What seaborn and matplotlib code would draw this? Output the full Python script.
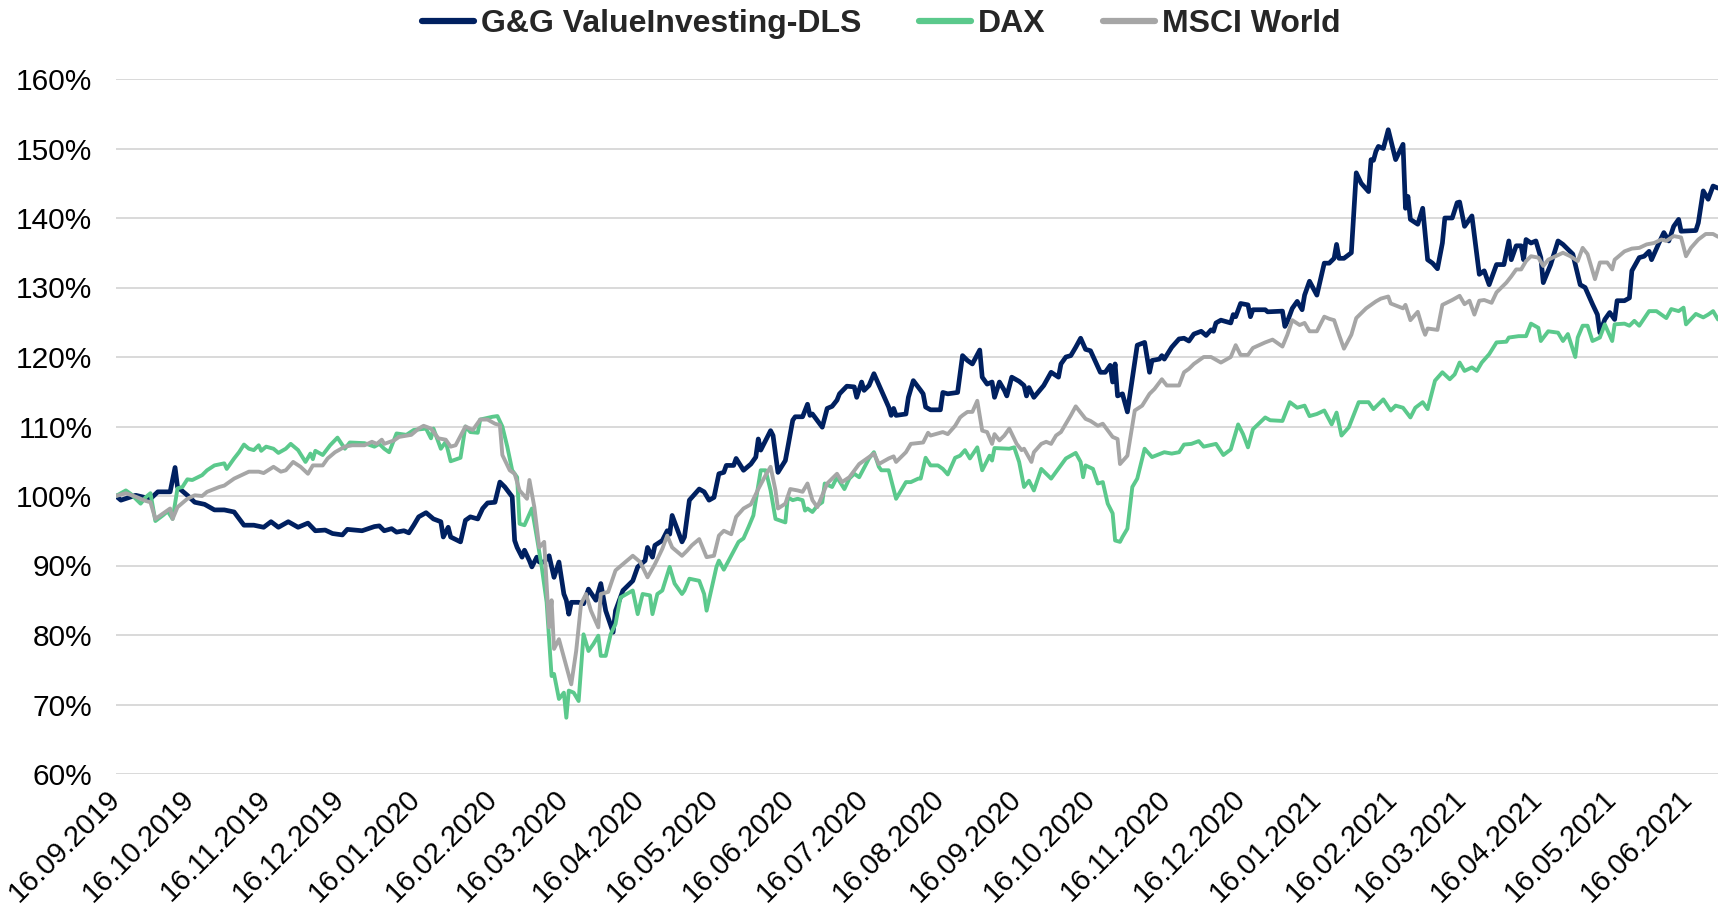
import pandas as pd
import seaborn as sns
import matplotlib.pyplot as plt
from matplotlib.ticker import PercentFormatter, MultipleLocator
import matplotlib.dates as mdates
from matplotlib.lines import Line2D

# days since 16.09.2019 and indexed values (start = 100%)
START = "2019-09-16"

gg_days = [0, 2, 8, 14, 17, 22, 24, 25, 29, 32, 36, 40, 44, 48, 52, 56, 60, 63, 66, 70, 74, 78, 81, 85, 88, 92, 94,
           100, 105, 107, 109, 112, 114, 117, 119, 121, 123, 126, 129, 132, 133, 135, 136, 140, 142, 144, 147, 149,
           151, 154, 156, 158, 161, 162, 163, 165, 166, 168, 169, 171, 172, 174, 176, 178, 180, 182, 183, 184, 185,
           188, 190, 192, 195, 197, 199, 202, 203, 206, 210, 212, 215, 216, 218, 219, 222, 224, 225, 226, 228, 230,
           231, 233, 237, 239, 241, 243, 245, 247, 248, 251, 252, 255, 258, 260, 261, 262, 266, 267, 269, 272, 273,
           275, 276, 279, 281, 282, 283, 287, 289, 291, 293, 294, 297, 300, 301, 303, 304, 306, 308, 311, 314, 315,
           316, 317, 321, 322, 324, 327, 328, 329, 331, 335, 336, 338, 342, 344, 346, 348, 351, 352, 354, 356, 357,
           359, 361, 362, 364, 367, 369, 370, 371, 373, 377, 380, 383, 384, 386, 388, 390, 392, 394, 396, 400, 402,
           404, 405, 406, 407, 409, 411, 415, 418, 420, 421, 424, 425, 426, 429, 432, 434, 436, 438, 441, 443, 445,
           446, 447, 449, 451, 453, 454, 455, 457, 460, 461, 462, 467, 468, 474, 475, 476, 478, 480, 482, 483, 485,
           488, 491, 493, 495, 496, 497, 499, 502, 504, 506, 509, 510, 511, 512, 513, 515, 517, 520, 523, 524, 525,
           526, 529, 531, 533, 535, 537, 539, 540, 543, 545, 546, 548, 551, 554, 556, 558, 561, 564, 566, 567, 569,
           571, 572, 573, 575, 577, 579, 580, 583, 586, 588, 592, 594, 595, 597, 600, 602, 603, 605, 607, 609, 610,
           613, 615, 616, 619, 621, 623, 624, 627, 629, 631, 633, 635, 636, 642, 643, 645, 647, 649, 651]
gg_vals = [100.0, 99.4, 100.1, 99.6, 100.6, 100.6, 104.1, 101.3, 100.1, 99.1, 98.8, 98.0, 98.0, 97.7, 95.8, 95.8,
           95.5, 96.3, 95.5, 96.3, 95.5, 96.1, 95.0, 95.1, 94.6, 94.4, 95.2, 95.0, 95.6, 95.7, 95.0, 95.3, 94.8, 95.0,
           94.7, 95.8, 97.0, 97.6, 96.7, 96.3, 94.1, 95.5, 94.1, 93.4, 96.5, 97.0, 96.7, 98.2, 99.0, 99.1, 102.0,
           101.3, 99.9, 93.6, 92.6, 91.2, 92.2, 90.7, 89.8, 91.2, 90.5, 90.5, 91.4, 88.3, 90.5, 85.9, 85.0, 83.0,
           84.7, 84.7, 84.5, 86.6, 85.0, 87.4, 83.5, 80.4, 83.5, 86.4, 87.8, 89.8, 90.7, 92.6, 91.2, 92.9, 93.6, 95.0,
           94.5, 97.2, 95.3, 93.4, 94.1, 99.4, 101.0, 100.6, 99.4, 99.8, 103.2, 103.4, 104.4, 104.4, 105.4, 103.7,
           104.6, 105.6, 108.2, 106.6, 109.4, 108.7, 103.4, 105.1, 107.0, 110.9, 111.4, 111.4, 113.2, 111.6, 111.8,
           109.9, 112.6, 112.9, 113.8, 114.7, 115.8, 115.7, 114.2, 116.4, 115.2, 115.9, 117.6, 115.2, 112.8, 111.6,
           112.6, 111.6, 111.8, 114.2, 116.6, 115.2, 114.7, 112.8, 112.4, 112.4, 114.9, 114.7, 114.9, 120.2, 119.5,
           119.0, 121.0, 117.1, 116.1, 116.4, 114.2, 116.4, 115.2, 114.4, 117.1, 116.5, 115.9, 114.4, 115.6, 114.2,
           115.9, 117.8, 117.1, 119.0, 120.0, 120.2, 121.4, 122.7, 121.1, 120.9, 117.8, 117.8, 118.8, 116.4, 119.0,
           114.4, 114.7, 112.1, 121.7, 122.1, 117.8, 119.5, 119.7, 120.2, 119.7, 121.4, 122.6, 122.7, 122.3, 123.3,
           123.7, 123.1, 123.9, 123.7, 124.9, 125.3, 125.1, 124.9, 126.1, 125.8, 127.7, 127.5, 125.8, 126.8, 126.8,
           126.5, 126.6, 124.4, 125.1, 127.0, 128.0, 126.8, 128.9, 130.9, 128.9, 133.5, 133.5, 134.2, 136.2, 134.2,
           134.2, 135.0, 146.5, 145.0, 143.8, 148.4, 148.3, 149.6, 150.3, 150.0, 152.7, 148.4, 150.6, 141.4, 143.1,
           139.8, 139.1, 141.4, 134.0, 133.5, 132.7, 136.4, 140.0, 140.0, 142.2, 142.3, 138.8, 140.3, 131.9, 132.4,
           130.4, 133.3, 133.3, 136.7, 134.0, 136.0, 136.0, 134.0, 136.9, 136.4, 136.7, 134.3, 130.7, 133.3, 136.7,
           136.2, 134.8, 131.9, 130.4, 130.0, 127.6, 126.1, 123.5, 125.4, 126.4, 125.4, 128.1, 128.1, 128.5, 132.4,
           134.3, 134.5, 135.2, 134.0, 136.4, 137.9, 136.7, 138.8, 139.8, 138.1, 138.2, 139.3, 143.9, 142.7, 144.6,
           144.3]

dax_days = [0, 4, 6, 10, 12, 14, 16, 19, 21, 23, 25, 27, 29, 31, 35, 37, 40, 44, 45, 48, 50, 52, 54, 56, 58, 59, 61,
            64, 66, 69, 71, 74, 77, 79, 80, 81, 84, 87, 90, 93, 95, 101, 105, 107, 109, 111, 114, 118, 121, 126, 128,
            129, 132, 134, 136, 140, 142, 144, 147, 148, 153, 155, 157, 159, 161, 163, 164, 166, 169, 171, 173, 175,
            177, 178, 180, 182, 183, 184, 186, 188, 190, 192, 194, 196, 197, 199, 201, 203, 205, 210, 212, 214, 217,
            218, 220, 222, 225, 227, 230, 231, 233, 237, 239, 240, 244, 245, 247, 250, 253, 255, 257, 259, 260, 262,
            264, 266, 268, 272, 273, 275, 277, 279, 280, 281, 283, 285, 287, 288, 291, 293, 296, 298, 300, 302, 306,
            308, 310, 311, 314, 317, 321, 323, 326, 327, 329, 331, 334, 336, 338, 341, 343, 345, 347, 350, 352, 355,
            356, 357, 363, 365, 367, 369, 371, 373, 376, 380, 386, 390, 392, 393, 394, 397, 399, 401, 403, 405, 406,
            408, 409, 411, 413, 415, 418, 421, 426, 429, 432, 434, 437, 440, 442, 447, 450, 453, 456, 458, 460, 462,
            467, 469, 474, 477, 480, 483, 485, 488, 491, 494, 496, 498, 501, 505, 509, 511, 515, 518, 520, 523, 526,
            528, 531, 533, 536, 539, 542, 544, 546, 548, 551, 553, 555, 558, 561, 565, 566, 570, 573, 575, 578, 579,
            582, 586, 588, 590, 593, 594, 596, 598, 600, 603, 605, 608, 609, 613, 615, 617, 619, 623, 626, 628, 630,
            632, 635, 637, 638, 642, 645, 647, 649, 651]
dax_vals = [100.0, 100.8, 100.3, 98.9, 99.8, 100.4, 96.4, 97.2, 97.8, 96.7, 101.1, 101.3, 102.4, 102.3, 103.0, 103.7,
            104.4, 104.7, 103.9, 105.4, 106.3, 107.4, 106.8, 106.6, 107.3, 106.5, 107.1, 106.8, 106.2, 106.8, 107.5,
            106.6, 104.9, 106.1, 105.3, 106.5, 105.9, 107.3, 108.4, 106.8, 107.7, 107.6, 107.1, 107.5, 106.8, 106.3,
            109.0, 108.8, 109.5, 109.7, 108.3, 109.7, 106.8, 107.8, 105.0, 105.5, 110.0, 109.2, 109.1, 111.0, 111.4,
            111.5, 110.0, 107.1, 103.7, 102.7, 96.0, 95.8, 98.2, 94.1, 89.8, 84.7, 74.1, 74.4, 70.8, 71.7, 68.1,
            72.0, 71.7, 70.5, 80.1, 77.7, 78.7, 79.9, 77.0, 77.0, 80.1, 81.6, 85.4, 86.4, 83.0, 85.9, 85.7, 83.0,
            85.9, 86.4, 89.8, 87.4, 85.9, 86.4, 88.1, 87.8, 85.9, 83.5, 89.8, 90.7, 89.4, 91.4, 93.4, 93.9, 95.5,
            97.2, 99.4, 103.7, 103.7, 100.8, 96.7, 96.2, 99.8, 99.4, 99.6, 99.4, 97.9, 98.2, 97.7, 98.6, 99.1, 101.8,
            101.3, 102.7, 101.0, 102.5, 103.2, 102.7, 105.4, 106.3, 104.2, 103.7, 103.7, 99.6, 102.0, 102.0, 102.5,
            102.5, 105.5, 104.4, 104.4, 103.9, 103.1, 105.5, 105.8, 106.6, 105.4, 107.0, 103.7, 105.8, 105.1, 106.9,
            106.8, 107.0, 104.9, 101.3, 102.2, 100.8, 103.9, 102.5, 105.4, 106.2, 104.9, 102.7, 104.4, 103.9, 101.8,
            102.0, 98.9, 97.5, 93.6, 93.4, 94.1, 95.3, 101.3, 102.5, 106.8, 105.6, 106.3, 106.1, 106.3, 107.4, 107.5,
            107.9, 107.1, 107.5, 105.9, 106.7, 110.3, 108.9, 107.0, 109.6, 111.3, 110.9, 110.8, 113.5, 112.7, 113.0,
            111.5, 111.8, 112.3, 110.3, 112.0, 108.7, 109.9, 113.5, 113.5, 112.5, 113.9, 112.3, 113.0, 112.7, 111.3,
            112.7, 113.5, 112.5, 116.6, 117.8, 116.8, 117.5, 119.2, 118.0, 118.5, 118.0, 119.2, 120.4, 122.1, 122.2,
            122.8, 123.0, 123.0, 124.8, 124.2, 122.3, 123.7, 123.5, 122.3, 123.3, 120.0, 122.8, 124.5, 124.5, 122.3,
            122.8, 124.7, 122.3, 124.7, 124.8, 124.5, 125.2, 124.5, 126.6, 126.6, 126.1, 125.6, 126.9, 126.6, 127.1,
            124.7, 126.2, 125.7, 126.1, 126.6, 125.4]

msci_days = [0, 4, 8, 12, 14, 16, 20, 22, 23, 25, 29, 32, 35, 37, 42, 44, 48, 51, 54, 58, 60, 64, 67, 69, 72, 75, 78,
             80, 84, 86, 89, 93, 96, 101, 104, 106, 108, 109, 113, 115, 120, 123, 125, 128, 131, 134, 136, 138, 142,
             145, 148, 151, 154, 156, 157, 160, 162, 164, 167, 168, 170, 172, 174, 176, 177, 178, 180, 182, 185, 187,
             189, 191, 193, 196, 197, 200, 203, 207, 210, 213, 216, 219, 222, 224, 226, 230, 232, 234, 237, 240, 243,
             245, 247, 250, 252, 255, 258, 261, 264, 266, 268, 269, 272, 274, 277, 279, 281, 283, 285, 289, 293, 295,
             298, 302, 306, 308, 310, 314, 316, 317, 321, 323, 328, 330, 331, 336, 338, 341, 343, 344, 346, 348, 350,
             352, 354, 356, 357, 359, 361, 363, 366, 368, 369, 372, 373, 376, 378, 380, 382, 384, 386, 388, 390, 394,
             396, 399, 401, 405, 407, 408, 411, 412, 414, 417, 420, 422, 425, 427, 432, 434, 436, 438, 442, 445, 449,
             453, 455, 457, 460, 462, 467, 470, 474, 476, 478, 481, 483, 485, 488, 491, 493, 495, 497, 499, 502, 504,
             508, 512, 514, 517, 518, 523, 524, 526, 529, 531, 532, 533, 537, 539, 543, 546, 548, 550, 552, 554, 556,
             559, 561, 565, 567, 569, 571, 573, 575, 578, 580, 582, 585, 588, 591, 594, 596, 598, 601, 603, 606, 608,
             609, 613, 616, 619, 622, 625, 628, 630, 633, 636, 638, 640, 643, 646, 649, 651]
msci_vals = [100.0, 100.4, 99.9, 99.3, 99.1, 96.7, 97.7, 98.2, 96.7, 98.4, 99.6, 100.1, 100.0, 100.6, 101.3, 101.5,
             102.5, 103.0, 103.5, 103.5, 103.3, 104.2, 103.5, 103.7, 104.9, 104.2, 103.2, 104.4, 104.4, 105.4, 106.3,
             107.1, 107.3, 107.3, 107.8, 107.5, 108.1, 107.5, 108.0, 108.5, 108.8, 109.7, 110.1, 109.7, 108.3, 108.1,
             107.1, 107.3, 110.0, 109.5, 111.0, 111.0, 110.4, 110.2, 105.9, 103.7, 103.2, 100.8, 99.6, 102.3, 98.4,
             92.6, 93.4, 81.1, 85.0, 78.0, 79.4, 76.8, 72.9, 77.7, 84.5, 85.9, 83.5, 81.1, 85.9, 86.2, 89.3, 90.5,
             91.4, 90.5, 88.3, 90.2, 92.4, 94.3, 92.6, 91.4, 92.1, 92.9, 93.8, 91.2, 91.4, 94.3, 95.0, 94.5, 97.0,
             98.2, 98.8, 101.0, 103.0, 104.2, 100.8, 98.2, 98.9, 101.0, 100.8, 100.6, 101.8, 99.4, 98.4, 101.8, 103.2,
             102.0, 102.7, 104.6, 105.6, 106.1, 104.6, 105.4, 105.7, 104.9, 106.3, 107.5, 107.7, 109.1, 108.7, 109.2,
             108.9, 110.1, 111.3, 111.6, 112.1, 112.1, 113.7, 109.4, 109.2, 107.5, 108.9, 108.0, 108.7, 109.7, 107.5,
             106.6, 106.8, 104.9, 106.3, 107.5, 107.8, 107.5, 108.7, 109.2, 110.4, 111.6, 112.9, 111.1, 110.8, 110.1,
             110.4, 108.5, 108.2, 104.6, 105.8, 108.0, 112.3, 113.0, 114.7, 115.4, 116.8, 115.9, 115.9, 117.8, 118.3,
             119.0, 120.0, 120.0, 119.2, 120.0, 121.7, 120.3, 120.3, 121.3, 122.1, 122.5, 121.5, 123.2, 125.3, 124.6,
             124.9, 123.7, 123.7, 125.8, 125.5, 125.3, 123.2, 121.2, 123.2, 125.6, 127.0, 128.0, 128.4, 128.7, 127.7,
             127.0, 127.5, 125.3, 126.5, 124.1, 123.2, 124.1, 123.9, 127.5, 128.2, 128.8, 127.6, 128.1, 126.1, 128.1,
             128.2, 127.8, 129.3, 130.7, 131.6, 132.6, 132.6, 133.8, 134.5, 134.3, 133.1, 134.0, 134.5, 135.0, 134.5,
             133.8, 135.7, 134.8, 131.2, 133.6, 133.6, 132.6, 134.0, 135.2, 135.6, 135.7, 136.2, 136.4, 136.9, 136.7,
             137.4, 137.2, 134.5, 135.7, 136.9, 137.7, 137.7, 137.3]

labels = ["G&G ValueInvesting-DLS", "DAX", "MSCI World"]
colors = ["#002060", "#5BC98C", "#A6A6A6"]
widths = [3.4, 2.8, 2.8]

sns.set_theme(style="white")
plt.rcParams["font.family"] = ["Liberation Sans", "DejaVu Sans"]

start = pd.Timestamp(START)


def to_frame(days, vals):
    return pd.DataFrame({"date": start + pd.to_timedelta(days, unit="D"), "value": vals})


fig = plt.figure(figsize=(17.29, 9.23), dpi=100)
ax = fig.add_axes([116 / 1729, 1 - 774 / 923, (1718 - 116) / 1729, (774 - 79) / 923])

series = [(gg_days, gg_vals), (dax_days, dax_vals), (msci_days, msci_vals)]
for i, (d, v) in enumerate(series):
    sns.lineplot(data=to_frame(d, v), x="date", y="value", color=colors[i],
                 linewidth=widths[i], ax=ax, zorder=3 + i)

ax.set_ylim(60, 160)
ax.yaxis.set_major_locator(MultipleLocator(10))
ax.yaxis.set_major_formatter(PercentFormatter(xmax=100, decimals=0))
ax.set_xlim(start, start + pd.Timedelta(days=651))

tick_dates = pd.date_range("2019-09-01", "2021-06-01", freq="MS") + pd.Timedelta(days=15)
ax.set_xticks(tick_dates)
ax.xaxis.set_major_formatter(mdates.DateFormatter("%d.%m.%Y"))
for lab in ax.get_xticklabels():
    lab.set_rotation(45)
    lab.set_ha("right")
    lab.set_va("center")
    lab.set_rotation_mode("anchor")

ax.grid(False)
ax.yaxis.grid(True, color="#d9d9d9", linewidth=1.4)
ax.set_axisbelow(True)
for s in ax.spines.values():
    s.set_visible(False)
ax.tick_params(axis="y", length=0, pad=17, labelsize=21.5, labelcolor="black")
ax.tick_params(axis="x", length=0, pad=15, labelsize=21, labelcolor="black")
ax.set_xlabel("")
ax.set_ylabel("")

handles = [Line2D([0], [0], color=c, linewidth=4.5) for c in colors]
fig.legend(handles, labels, loc="center", bbox_to_anchor=(0.5095, 0.974), ncol=3, frameon=False,
           prop={"weight": "bold", "size": 23}, handlelength=1.65, handletextpad=0.2, columnspacing=1.8)

fig.savefig("out.png", dpi=100)
